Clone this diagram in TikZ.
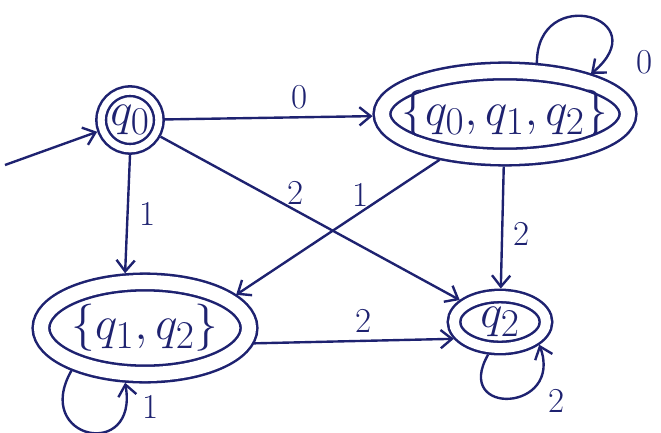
\documentclass[tikz,border=0pt]{standalone}
\usepackage{fontspec}
\usepackage{graphicx}
\usetikzlibrary{shapes.geometric}
\usetikzlibrary{arrows.meta}
\definecolor{c1}{RGB}{30,34,112}
\newcommand{\stname}[1]{\scalebox{1.35}{$#1$}}

\begin{document}
\begin{tikzpicture}[
    >={Straight Barb[length=8pt,width=13pt]},
    state/.style={draw=c1,line width=1.8pt,double,double distance=#1,
        outer sep=#1/2+1.8pt,inner sep=0pt,text=c1,font=\Huge},
    edge/.style={draw=c1,line width=1.7pt,->},
    lbl/.style={text=c1,font=\Huge}]
    \useasboundingbox (0,0) rectangle (16.525,-10.8);
    % the four states of the subset construction
    \node[state=5pt,circle,minimum size=1.44cm] (q0) at (3.25,-3.0) {\stname{q_0}};
    \node[state=10pt,ellipse,minimum width=6.15cm,minimum height=2.15cm,inner xsep=-0.5cm]
        (A) at (12.625,-2.85) {\stname{\{q_0,q_1,q_2\}}};
    \node[state=10pt,ellipse,minimum width=5.2cm,minimum height=2.3cm,inner xsep=-0.2cm]
        (B) at (3.625,-8.2) {\stname{\{q_1,q_2\}}};
    \node[state=7pt,ellipse,minimum width=2.3cm,minimum height=1.3cm]
        (q2) at (12.5,-8.05) {\stname{q_2}};
    \coordinate (start) at (0.125,-4.125);
    % start arrow
    \draw[edge] (start) -- (q0);
    % moves out of q0
    \draw[edge] (q0) -- node[lbl,pos=0.65,above,yshift=2pt] {0} (A);
    \draw[edge] (q0.south) -- node[lbl,pos=0.5,right,xshift=4pt] {1} (B.110);
    \draw[edge] (q0) -- node[lbl,pos=0.45,above] {2} (q2);
    % moves out of {q0,q1,q2}
    \draw[edge] (A.215) -- node[lbl,pos=0.39,above] {1} (B.20);
    \draw[edge] (A) -- node[lbl,pos=0.55,right,xshift=4pt] {2} (q2);
    \draw[edge] (A.58) .. controls +(90:2cm) and +(40:2.2cm) .. node[lbl,pos=0.93,right,xshift=20pt] {0} (A.25);
    % moves out of {q1,q2}
    \draw[edge] (B.352) -- node[lbl,pos=0.55,above,yshift=2pt] {2} (q2.200);
    \draw[edge] (B.210) .. controls +(240:2cm) and +(280:2cm) .. node[lbl,pos=0.88,right,xshift=8pt] {1} (B.250);
    % loop on q2
    \draw[edge] (q2.250) .. controls +(240:1.8cm) and +(290:1.8cm) .. node[lbl,pos=0.75,below right,xshift=4pt] {2} (q2.330);
\end{tikzpicture}
\end{document}
